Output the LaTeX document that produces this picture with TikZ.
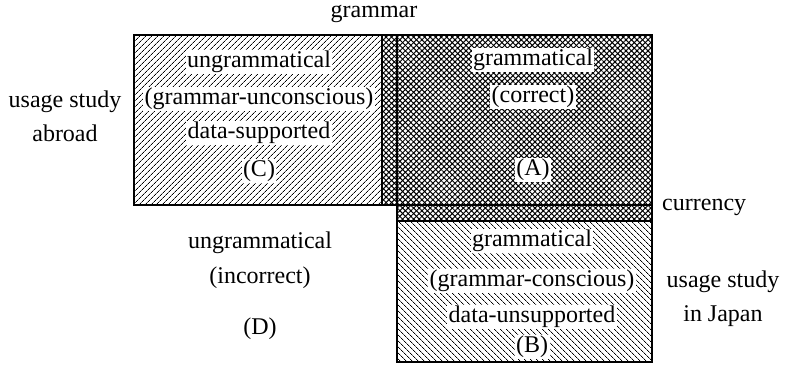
\documentclass[tikz,border=0pt]{standalone}
\usepackage{fontspec}
\setmainfont{Liberation Serif}
\usetikzlibrary{patterns.meta}
\begin{document}
\begin{tikzpicture}[x=1pt,y=-1pt,
  txt/.style={font=\fontsize{24}{34}\selectfont, inner sep=0pt, align=center},
  halo/.style={txt, fill=white, inner sep=1.5pt},
  edge/.style={line width=1.2pt},
  axisline/.style={line width=2.2pt},
  hatchC/.style={pattern={Lines[angle=45,distance=4pt,line width=0.7pt]}},
  hatchB/.style={pattern={Lines[angle=-45,distance=4pt,line width=0.7pt]}},
  crossA/.style={pattern={Lines[angle=45,distance=3.9pt,line width=1pt]}},
  crossA2/.style={pattern={Lines[angle=-45,distance=3.9pt,line width=1pt]}}]
\useasboundingbox (0,0) rectangle (785,368);

% corner coordinates
\coordinate (cTL) at (134,35);
\coordinate (cBR) at (382,205);
\coordinate (aTL) at (382,35);
\coordinate (aTR) at (652,35);
\coordinate (aBR) at (652,221);
\coordinate (bTL) at (397,221);
\coordinate (bBR) at (652,362);
\coordinate (gTop) at (397,35);
\coordinate (gBot) at (397,362);
\coordinate (cuL) at (134,205);
\coordinate (cuR) at (652,205);

% regions
\path[hatchC] (cTL) rectangle (cBR);
\path[crossA] (aTL) -- (aTR) -- (aBR) -- (bTL) -- (397,205) -- (cBR) -- cycle;
\path[crossA2] (aTL) -- (aTR) -- (aBR) -- (bTL) -- (397,205) -- (cBR) -- cycle;
\path[hatchB] (bTL) rectangle (bBR);

\draw[edge] (cTL) rectangle (cBR);
\draw[edge] (aTL) -- (aTR) -- (aBR) -- (bTL);
\draw[edge] (bTL) rectangle (bBR);
\draw[axisline] (gTop) -- (gBot);
\draw[axisline] (cuL) -- (cuR);

% outer labels
\node[txt] (gram) at (374,14) {grammar};
\node[txt, anchor=west] (curr) at (662,207) {currency};
\node[txt] (abroad) at (65,116) {usage study\\abroad};
\node[txt] (japan) at (723,299) {usage study\\in Japan};

% region C
\node[halo] (c1) at (259,62) {ungrammatical};
\node[halo] (c2) at (259,99) {(grammar-unconscious)};
\node[halo] (c3) at (259,133) {data-supported};
\node[halo] (c4) at (259,171) {(C)};

% region A
\node[halo] (a1) at (533,60) {grammatical};
\node[halo] (a2) at (533,97) {(correct)};
\node[halo] (a3) at (533,170) {(A)};

% region B
\node[halo] (b1) at (532,241) {grammatical};
\node[halo] (b2) at (532,281) {(grammar-conscious)};
\node[halo] (b3) at (532,317) {data-unsupported};
\node[halo] (b4) at (532,347) {(B)};

% region D
\node[txt] (d1) at (260,243) {ungrammatical};
\node[txt] (d2) at (260,278) {(incorrect)};
\node[txt] (d3) at (260,329) {(D)};
\end{tikzpicture}
\end{document}
